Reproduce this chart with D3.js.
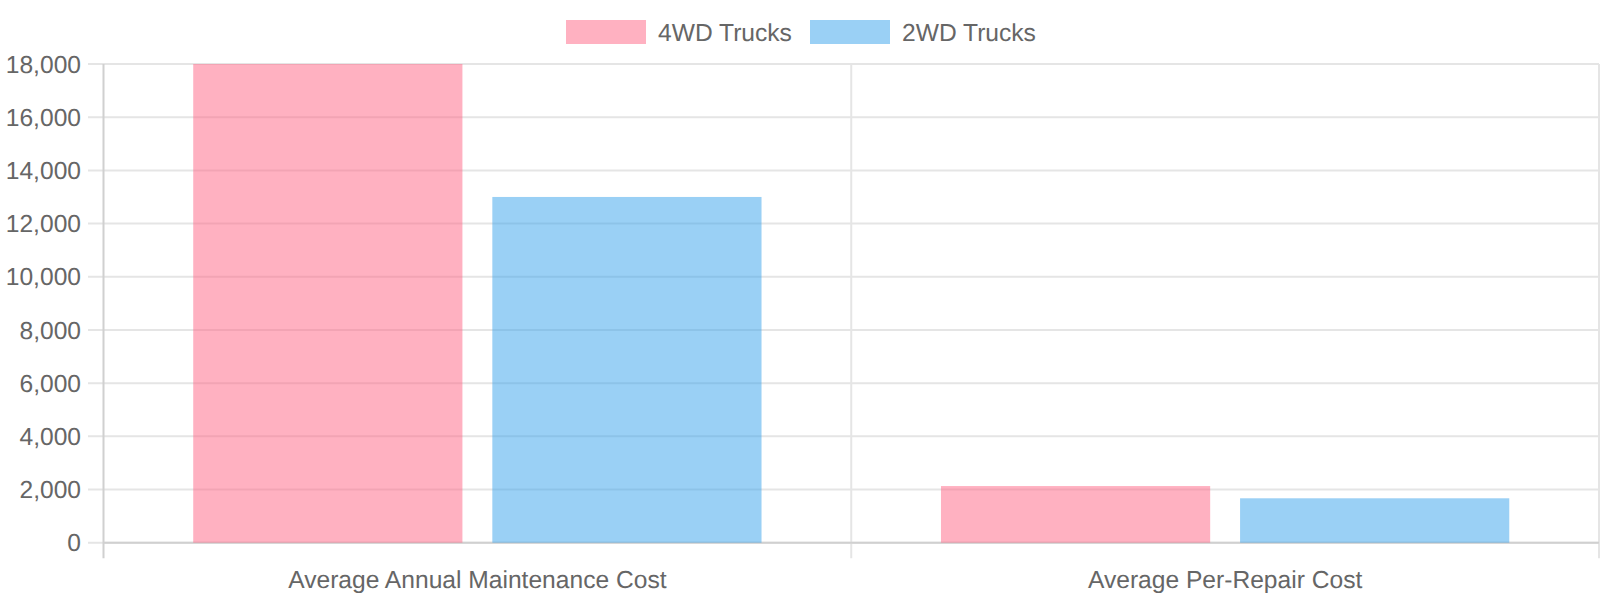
<!DOCTYPE html>
<html><head><meta charset="utf-8">
<script src="https://cdn.jsdelivr.net/npm/d3@7"></script>
<style>
html,body{margin:0;padding:0;background:#fff;}
svg{display:block;font-family:"Liberation Sans",Arial,Helvetica,sans-serif;text-rendering:geometricPrecision;}
</style></head>
<body>
<svg id="chart" width="1600" height="600"></svg>
<script>
const categories = ["Average Annual Maintenance Cost", "Average Per-Repair Cost"];
const seriesNames = ["4WD Trucks", "2WD Trucks"];
const values4WD = [18000, 2130];
const values2WD = [13000, 1670];
const yTicks = [0, 2000, 4000, 6000, 8000, 10000, 12000, 14000, 16000, 18000];

(function () {
const colors = {"4WD Trucks": "rgb(255,99,132)", "2WD Trucks": "rgb(54,162,235)"};
const seriesValues = {"4WD Trucks": values4WD, "2WD Trucks": values2WD};
const fs = 24.6;

const svg = d3.select("#chart");
const mLeft = 103.5, mRight = 1599, mTop = 64, mBottom = 542.7;

const x = d3.scaleBand().domain(categories).range([mLeft, mRight]).paddingInner(0).paddingOuter(0);
const bw = x.bandwidth();
const x1 = d3.scaleBand().domain(seriesNames).range([0.1 * bw, 0.9 * bw]).paddingInner(0.1).paddingOuter(0.05);
const y = d3.scaleLinear().domain([0, 18000]).range([mBottom, mTop]);

const gridColor = "#e5e5e5";
const axisColor = "#d0d0d0";

// horizontal gridlines + y ticks
svg.append("g").selectAll("line").data(yTicks).join("line")
  .attr("x1", mLeft - 15.5).attr("x2", mRight)
  .attr("y1", d => y(d)).attr("y2", d => y(d))
  .attr("stroke", gridColor).attr("stroke-width", 2);

// vertical gridlines (offset between categories)
const vx = [x(categories[1]), mRight];
svg.append("g").selectAll("line").data(vx).join("line")
  .attr("x1", d => d).attr("x2", d => d)
  .attr("y1", mTop).attr("y2", mBottom + 15.5)
  .attr("stroke", gridColor).attr("stroke-width", 2);

// axis lines
svg.append("line").attr("x1", mLeft).attr("x2", mLeft).attr("y1", mTop).attr("y2", mBottom + 15.5)
  .attr("stroke", axisColor).attr("stroke-width", 2);
svg.append("line").attr("x1", mLeft).attr("x2", mRight).attr("y1", mBottom).attr("y2", mBottom)
  .attr("stroke", axisColor).attr("stroke-width", 2);

// y tick labels
svg.append("g").selectAll("text").data(yTicks).join("text")
  .attr("x", 81).attr("y", d => y(d)).attr("dy", "0.35em")
  .attr("text-anchor", "end").attr("fill", "#666").attr("font-size", fs)
  .text(d => d3.format(",")(d));

// bars
const rows = categories.map((c, i) => ({cat: c, vals: seriesNames.map(s => ({s, v: seriesValues[s][i]}))}));
svg.append("g").selectAll("g").data(rows).join("g")
  .attr("transform", d => `translate(${x(d.cat)},0)`)
  .selectAll("rect").data(d => d.vals).join("rect")
  .attr("x", d => x1(d.s)).attr("width", x1.bandwidth())
  .attr("y", d => y(d.v)).attr("height", d => y(0) - y(d.v))
  .attr("fill", d => colors[d.s]).attr("fill-opacity", 0.5);

// x labels
svg.append("g").selectAll("text").data(categories).join("text")
  .attr("x", d => x(d) + bw / 2).attr("y", 579).attr("dy", "0.35em")
  .attr("text-anchor", "middle").attr("fill", "#666").attr("font-size", fs)
  .text(d => d);

// legend
const legendX = [566, 810];
const lg = svg.append("g").selectAll("g").data(seriesNames).join("g")
  .attr("transform", (d, i) => `translate(${legendX[i]},20)`);
lg.append("rect").attr("width", 80).attr("height", 24)
  .attr("fill", d => colors[d]).attr("fill-opacity", 0.5);
lg.append("text").attr("x", 92).attr("y", 12).attr("dy", "0.35em")
  .attr("fill", "#666").attr("font-size", fs).text(d => d);
})();
</script>
</body></html>
